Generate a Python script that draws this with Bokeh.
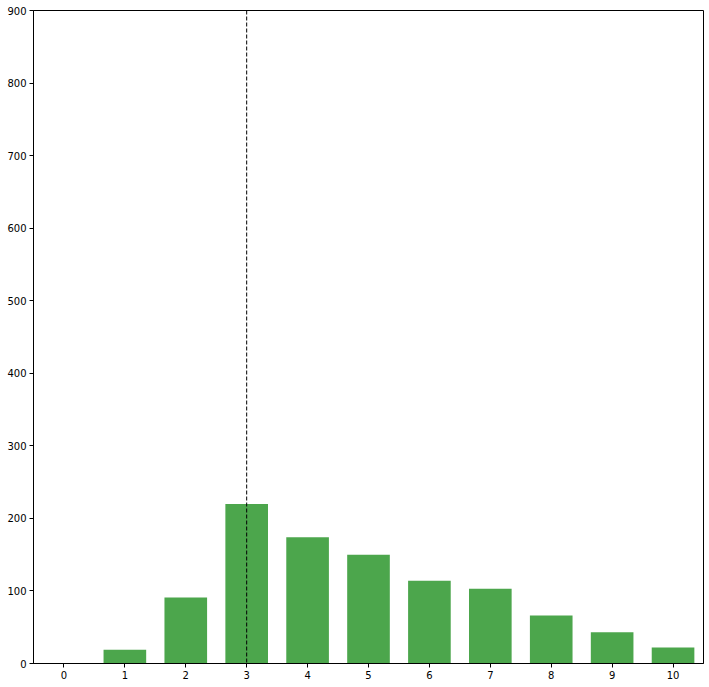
from bokeh.plotting import figure
from bokeh.models import Span, FixedTicker, ColumnDataSource
from bokeh.embed import file_html
from bokeh.resources import INLINE

categories = [0, 1, 2, 3, 4, 5, 6, 7, 8, 9, 10]
counts = [0, 19, 91, 220, 174, 150, 114, 103, 66, 43, 22]
y_ticks = [0, 100, 200, 300, 400, 500, 600, 700, 800, 900]
marker_x = 3

src = ColumnDataSource(dict(x=categories, top=counts))

p = figure(width=709, height=687, output_backend="svg", toolbar_location=None,
           x_range=(-0.5, 10.5), y_range=(0, 900),
           min_border_left=33, min_border_right=6, min_border_top=10, min_border_bottom=24)

p.vbar(x="x", top="top", bottom=0, width=0.7, source=src,
       fill_color="green", fill_alpha=0.7, line_color=None)

p.add_layout(Span(location=marker_x, dimension="height", line_color="black",
                  line_width=1, line_dash="4 2"))

p.xgrid.visible = False
p.ygrid.visible = False
p.outline_line_color = "black"
p.outline_line_width = 1
p.background_fill_color = "white"
p.border_fill_color = "white"

p.xaxis.ticker = FixedTicker(ticks=categories)
p.yaxis.ticker = FixedTicker(ticks=y_ticks)
for ax in (p.xaxis, p.yaxis):
    ax.axis_line_color = "black"
    ax.major_tick_line_color = "black"
    ax.minor_tick_line_color = None
    ax.major_tick_out = 4
    ax.major_tick_in = 0
    ax.major_label_text_font = "DejaVu Sans"
    ax.major_label_text_font_size = "10px"
    ax.major_label_text_color = "black"
    ax.major_label_standoff = 3

open("out.html", "w").write(file_html(p, INLINE))
